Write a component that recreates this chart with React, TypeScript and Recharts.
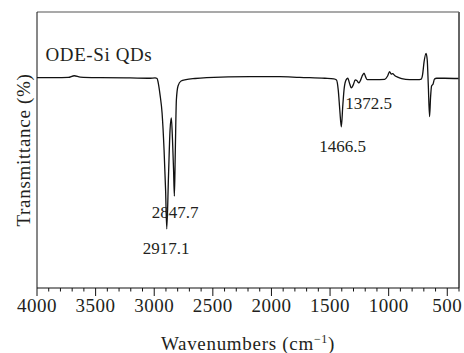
import React from "react";
import {
  LineChart,
  Line,
  XAxis,
  YAxis,
  ReferenceLine,
  ReferenceDot,
} from "recharts";

// FTIR spectrum of ODE-Si QDs
const wavenumbers = [
  4000, 3844, 3733, 3682, 3631, 3461, 3206, 3035, 2993, 2975, 2967, 2950, 2933,
  2916, 2903, 2893, 2878, 2865, 2854, 2844, 2835, 2828, 2820, 2811, 2797, 2771,
  2729, 2652, 2552, 2184, 1928, 1758, 1545, 1468, 1445, 1430, 1417, 1404, 1391,
  1379, 1362, 1349, 1332, 1319, 1302, 1285, 1272, 1255, 1243, 1226, 1210, 1196,
  1183, 1119, 1034, 1009, 992, 979, 966, 949, 923, 889, 821, 753, 722, 711, 698,
  681, 671, 662, 651, 643, 634, 621, 609, 591, 523, 404,
];
const transmittance = [
  76.2, 76.2, 76.3, 76.9, 76.4, 76.2, 76.1, 76.0, 76.1, 75.9, 74.6, 69.9, 63.4,
  50.0, 35.5, 21.4, 40.9, 57.2, 61.6, 53.6, 42.8, 33.3, 50.0, 68.1, 73.2, 75.0,
  75.5, 75.9, 76.2, 76.6, 76.6, 76.3, 76.0, 75.8, 75.4, 71.7, 64.5, 58.4, 66.3,
  72.5, 75.5, 76.0, 73.9, 72.5, 73.6, 75.4, 75.2, 74.3, 75.0, 76.8, 77.8, 76.4,
  75.5, 75.5, 75.6, 76.8, 78.4, 77.5, 77.7, 77.0, 76.4, 75.9, 75.5, 75.5, 75.7,
  77.2, 81.9, 85.0, 82.6, 73.6, 62.1, 68.8, 73.2, 73.9, 75.7, 76.0, 76.0, 75.9,
];

const majorTicks = [4000, 3500, 3000, 2500, 2000, 1500, 1000, 500];
const allTicks = Array.from({ length: 37 }, (_, i) => 4000 - i * 100);

// peak labels: text, wavenumber / transmittance where the label sits
const peakLabels = ["2917.1", "2847.7", "1466.5", "1372.5"];
const peakLabelX = [2899, 2822, 1392, 1171];
const peakLabelY = [14.5, 27.5, 51.6, 67.2];

const data = wavenumbers.map((wn, i) => ({ wn, t: transmittance[i] }));

const FONT = '"Liberation Serif", "Times New Roman", serif';
const INK = "#231f20";

const WaveTick = (props: any) => {
  const { x, y, payload } = props;
  const major = majorTicks.includes(payload.value);
  return (
    <g>
      <line x1={x} x2={x} y1={y} y2={y + (major ? 8 : 3.5)} stroke="#111" />
      {major && (
        <text
          x={x}
          y={y + 23.5}
          textAnchor="middle"
          fontFamily={FONT}
          fontSize={19}
          letterSpacing={0.5}
          fill={INK}
        >
          {payload.value}
        </text>
      )}
    </g>
  );
};

const XTitle = (props: any) => {
  const { viewBox } = props;
  return (
    <text
      x={viewBox.x + viewBox.width / 2}
      y={viewBox.y + 62}
      textAnchor="middle"
      fontFamily={FONT}
      fontSize={19}
      letterSpacing={0.7}
      fill={INK}
    >
      Wavenumbers (cm
      <tspan dy={-7} fontSize={12}>
        −1
      </tspan>
      <tspan dy={7}>)</tspan>
    </text>
  );
};

const YTitle = (props: any) => {
  const { viewBox } = props;
  const cx = 30;
  const cy = viewBox.y + viewBox.height / 2;
  return (
    <text
      x={cx}
      y={cy}
      transform={`rotate(-90 ${cx} ${cy})`}
      textAnchor="middle"
      fontFamily={FONT}
      fontSize={19}
      letterSpacing={0.7}
      fill={INK}
    >
      Transmittance (%)
    </text>
  );
};

export default function App() {
  return (
    <div style={{ position: "absolute", left: 0, top: 0 }}>
      <LineChart
        width={464}
        height={353}
        data={data}
        margin={{ top: 12, right: 5, left: 0, bottom: 0 }}
      >
        <XAxis
          dataKey="wn"
          type="number"
          domain={[400, 4000]}
          reversed
          ticks={allTicks}
          interval={0}
          tickSize={0}
          tickMargin={0}
          tickLine={false}
          tick={<WaveTick />}
          axisLine={{ stroke: "#111" }}
          height={65}
          label={{ content: <XTitle /> }}
        />
        <YAxis
          type="number"
          domain={[0, 100]}
          tick={false}
          tickLine={false}
          axisLine={{ stroke: "#111" }}
          width={37}
          label={{ content: <YTitle /> }}
        />
        <ReferenceLine y={100} stroke="#555" strokeWidth={1.2} />
        <ReferenceLine x={400} stroke="#666" strokeWidth={2} />
        <Line
          type="monotone"
          dataKey="t"
          stroke="#111"
          strokeWidth={1.3}
          dot={false}
          isAnimationActive={false}
        />
        <ReferenceDot
          x={3472}
          y={84.6}
          r={0}
          fill="none"
          stroke="none"
          label={{
            value: "ODE-Si QDs",
            position: "center",
            fontFamily: FONT,
            fontSize: 19,
            letterSpacing: 0.6,
            fill: INK,
          }}
        />
        {peakLabels.map((txt, i) => (
          <ReferenceDot
            key={txt}
            x={peakLabelX[i]}
            y={peakLabelY[i]}
            r={0}
            fill="none"
            stroke="none"
            label={{
              value: txt,
              position: "center",
              fontFamily: FONT,
              fontSize: 17,
              fill: INK,
            }}
          />
        ))}
      </LineChart>
    </div>
  );
}
